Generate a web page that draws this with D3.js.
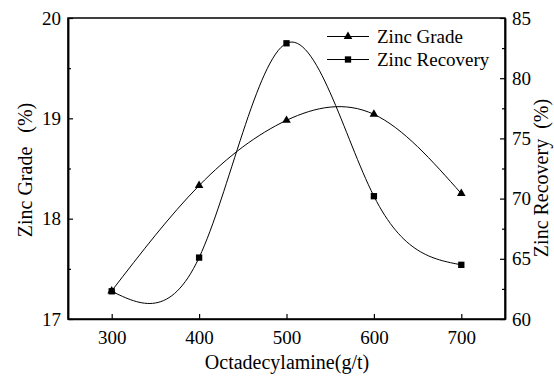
<!DOCTYPE html>
<html><head><meta charset="utf-8">
<script src="https://cdn.jsdelivr.net/npm/d3@7/dist/d3.min.js"></script>
<style>
html,body{margin:0;padding:0;background:#fff;}
svg{display:block;}
svg text{font-family:"Liberation Serif","Times New Roman",Tinos,"DejaVu Serif",serif !important;}
</style></head>
<body>
<svg id="c" width="554" height="376"></svg>
<script>
const dosage = [300, 400, 500, 600, 700];
const zincGrade = [17.28, 18.33, 18.98, 19.04, 18.25];
const zincRecovery = [62.3, 65.1, 82.9, 70.2, 64.5];
const xTicks = [300, 400, 500, 600, 700];
const leftTicks = [17, 18, 19, 20];
const leftMinor = [17.5, 18.5, 19.5];
const rightTicks = [60, 65, 70, 75, 80, 85];
const rightMinor = [62.5, 67.5, 72.5, 77.5, 82.5];
const seriesNames = ["Zinc Grade", "Zinc Recovery"];

const svg = d3.select("#c");
const L = 68, R = 505, T = 18, B = 319;
const x = d3.scaleLinear().domain([250, 750]).range([L, R]);
const yL = d3.scaleLinear().domain([17, 20]).range([B, T]);
const yR = d3.scaleLinear().domain([60, 85]).range([B, T]);

const fs = 19;
svg.append("rect").attr("x", L).attr("y", T).attr("width", R - L).attr("height", B - T)
  .attr("fill", "none").attr("stroke", "#000").attr("stroke-width", 1.5);

svg.append("g").attr("transform", `translate(0,${B})`)
  .call(d3.axisBottom(x).tickValues(xTicks).tickSizeInner(-5).tickSizeOuter(0).tickPadding(12));
svg.append("g").attr("transform", `translate(${L},0)`)
  .call(d3.axisLeft(yL).tickValues(leftTicks).tickFormat(d3.format("d")).tickSizeInner(-5).tickSizeOuter(0).tickPadding(7));
svg.append("g").attr("transform", `translate(${L},0)`)
  .call(d3.axisLeft(yL).tickValues(leftMinor).tickFormat("").tickSizeInner(-3).tickSizeOuter(0));
svg.append("g").attr("transform", `translate(${R},0)`)
  .call(d3.axisRight(yR).tickValues(rightTicks).tickFormat(d3.format("d")).tickSizeInner(-5).tickSizeOuter(0).tickPadding(7));
svg.append("g").attr("transform", `translate(${R},0)`)
  .call(d3.axisRight(yR).tickValues(rightMinor).tickFormat("").tickSizeInner(-3).tickSizeOuter(0));

svg.selectAll("g").attr("font-family", null);
svg.selectAll(".domain").attr("stroke", "#000").attr("stroke-width", 1.5);
svg.selectAll(".tick line").attr("stroke", "#000").attr("stroke-width", 1.2);
svg.selectAll(".tick text").attr("font-size", fs).attr("fill", "#000");

svg.append("text").attr("x", 287).attr("y", 369).attr("text-anchor", "middle")
  .attr("font-size", 20).text("Octadecylamine(g/t)");
svg.append("text").attr("transform", `translate(32,170) rotate(-90)`).attr("text-anchor", "middle")
  .attr("font-size", 20).text("Zinc Grade\u2002\u2009(%)");
svg.append("text").attr("transform", `translate(548,178) rotate(-90)`).attr("text-anchor", "middle")
  .attr("font-size", 20).text("Zinc Recovery\u2002(%)");

const lineL = d3.line().x((d, i) => x(dosage[i])).y(d => yL(d)).curve(d3.curveNatural);
const lineR = d3.line().x((d, i) => x(dosage[i])).y(d => yR(d)).curve(d3.curveNatural);
svg.append("path").attr("d", lineL(zincGrade)).attr("fill", "none").attr("stroke", "#000").attr("stroke-width", 1);
svg.append("path").attr("d", lineR(zincRecovery)).attr("fill", "none").attr("stroke", "#000").attr("stroke-width", 1);

const tri = d3.symbol().type(d3.symbolTriangle).size(32);
const sq = d3.symbol().type(d3.symbolSquare).size(40);
svg.selectAll(".m1").data(zincGrade).join("path")
  .attr("transform", (d, i) => `translate(${x(dosage[i])},${yL(d)})`).attr("d", tri).attr("fill", "#000");
svg.selectAll(".m2").data(zincRecovery).join("path")
  .attr("transform", (d, i) => `translate(${x(dosage[i])},${yR(d)})`).attr("d", sq).attr("fill", "#000");

const lg = svg.append("g");
const rows = [36.5, 59.5];
seriesNames.forEach((name, i) => {
  lg.append("line").attr("x1", 327).attr("x2", 369).attr("y1", rows[i]).attr("y2", rows[i])
    .attr("stroke", "#000").attr("stroke-width", 1);
  lg.append("path").attr("transform", `translate(348,${rows[i]})`).attr("d", i === 0 ? tri : sq).attr("fill", "#000");
  lg.append("text").attr("x", 377).attr("y", rows[i] + 6).attr("font-size", 19).text(name);
});
</script>
</body></html>
